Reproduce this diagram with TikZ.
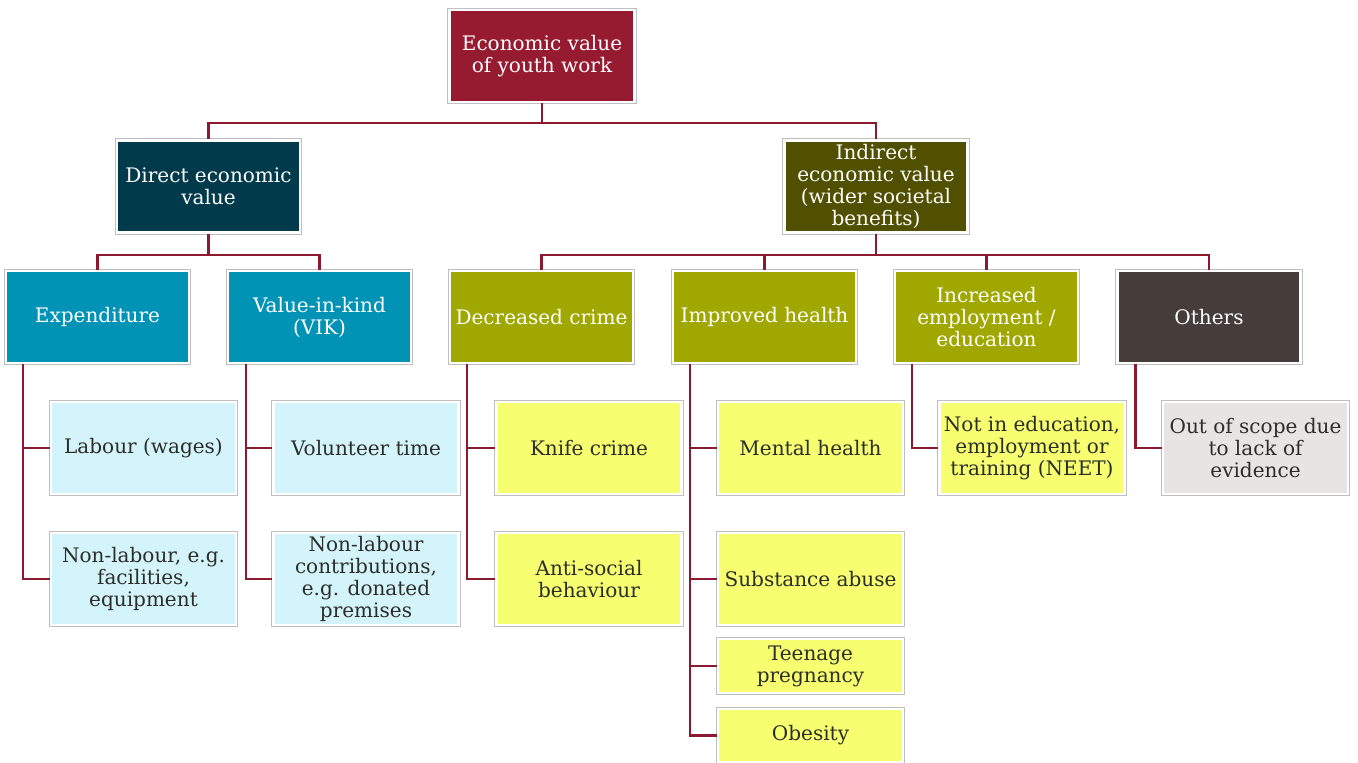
\documentclass[tikz,border=0pt]{standalone}
\usepackage{fontspec}
\setmainfont{DejaVu Serif}
\usetikzlibrary{shapes, arrows.meta, positioning, calc}
\definecolor{rootred}{RGB}{150, 27, 48}
\definecolor{directteal}{RGB}{0, 58, 75}
\definecolor{indirectolive}{RGB}{80, 80, 0}
\definecolor{catteal}{RGB}{0, 147, 182}
\definecolor{catolive}{RGB}{160, 168, 0}
\definecolor{catgrey}{RGB}{68, 61, 58}
\definecolor{itemcyan}{RGB}{212, 244, 252}
\definecolor{itemyellow}{RGB}{247, 255, 112}
\definecolor{itemgrey}{RGB}{230, 229, 227}
\definecolor{linkred}{RGB}{139, 26, 48}
\definecolor{itemtext}{RGB}{45, 45, 40}

\tikzset{
  box/.style={rectangle, draw=white, line width=1.2pt,
    preaction={draw=black!25, line width=2.4pt},
    minimum width=3.66cm, minimum height=1.84cm, inner sep=1pt,
    align=center, font=\fontsize{11.4}{12.5}\selectfont},
  topbox/.style={box, text=white},
  itembox/.style={box, minimum width=3.7cm, text=itemtext},
  link/.style={draw=linkred, line width=1.2pt}
}

\begin{document}
\begin{tikzpicture}[x=0.02cm, y=-0.02cm]
  \useasboundingbox (0,0) rectangle (1358,762);

  % top levels
  \node[topbox, fill=rootred, minimum width=3.7cm] (root) at (542,56) {Economic value\\of youth work};
  \node[topbox, fill=directteal] (direct) at (208.5,186.5) {Direct economic\\value};
  \node[topbox, fill=indirectolive] (indirect) at (876,186.5) {Indirect\\economic value\\(wider societal\\benefits)};

  % categories
  \node[topbox, fill=catteal] (expend) at (97.5,317) {Expenditure};
  \node[topbox, fill=catteal] (vik) at (319.5,317) {Value-in-kind\\(VIK)};
  \node[topbox, fill=catolive] (crime) at (541.5,317) {Decreased crime};
  \node[topbox, fill=catolive] (health) at (764.5,317) {Improved health};
  \node[topbox, fill=catolive] (employ) at (986.5,317) {Increased\\employment /\\education};
  \node[topbox, fill=catgrey] (others) at (1209,317) {Others};

  % items
  \node[itembox, fill=itemcyan] (labour) at (143.5,448) {Labour (wages)};
  \node[itembox, fill=itemcyan] (nonlab) at (143.5,579) {Non-labour, e.g.\\facilities,\\equipment};
  \node[itembox, fill=itemcyan] (volunteer) at (366,448) {Volunteer time};
  \node[itembox, fill=itemcyan] (contrib) at (366,579) {Non-labour\\contributions,\\e.g. donated\\premises};
  \node[itembox, fill=itemyellow] (knife) at (589,448) {Knife crime};
  \node[itembox, fill=itemyellow] (antisoc) at (589,579) {Anti-social\\behaviour};
  \node[itembox, fill=itemyellow] (mental) at (810.5,448) {Mental health};
  \node[itembox, fill=itemyellow] (substance) at (810.5,579) {Substance abuse};
  \node[itembox, fill=itemyellow, minimum height=1.08cm] (teen) at (810.5,666) {Teenage\\pregnancy};
  \node[itembox, fill=itemyellow, minimum height=1.06cm] (obesity) at (810.5,735.5) {Obesity};
  \node[itembox, fill=itemyellow] (neet) at (1032,448) {Not in education,\\employment or\\training (NEET)};
  \node[itembox, fill=itemgrey] (scope) at (1255.5,448) {Out of scope due\\to lack of\\evidence};

  % connectors
  \draw[link] (root.south) -- ++(0,20) -| (direct.north);
  \draw[link] (root.south) -- ++(0,20) -| (indirect.north);
  \foreach \c in {expend, vik}
    \draw[link] (direct.south) -- ++(0,21) -| (\c.north);
  \foreach \c in {crime, health, employ, others}
    \draw[link] (indirect.south) -- ++(0,21) -| (\c.north);

  \draw[link] ($(expend.south west)+(18,0)$) |- (nonlab.west);
  \draw[link] ($(expend.south west)+(18,0)$) |- (labour.west);
  \draw[link] ($(vik.south west)+(19,0)$) |- (contrib.west);
  \draw[link] ($(vik.south west)+(19,0)$) |- (volunteer.west);
  \draw[link] ($(crime.south west)+(18,0)$) |- (antisoc.west);
  \draw[link] ($(crime.south west)+(18,0)$) |- (knife.west);
  \foreach \c in {obesity, teen, substance, mental}
    \draw[link] ($(health.south west)+(18,0)$) |- (\c.west);
  \draw[link] ($(employ.south west)+(18,0)$) |- (neet.west);
  \draw[link] ($(others.south west)+(19,0)$) |- (scope.west);
\end{tikzpicture}
\end{document}
